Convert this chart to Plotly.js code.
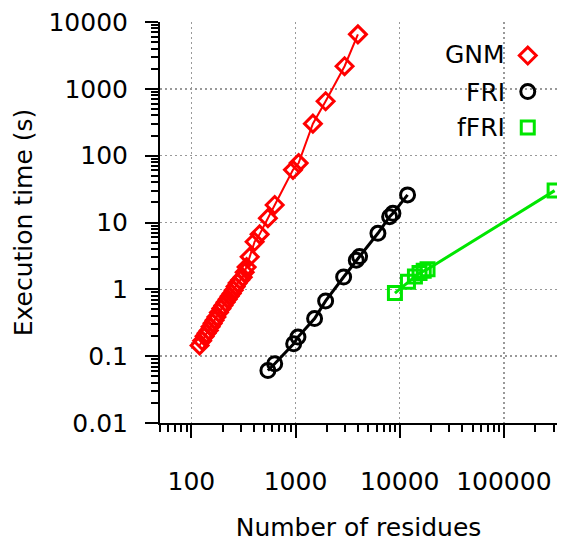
<!DOCTYPE html>
<html>
<head>
<meta charset="utf-8">
<script src="https://cdn.plot.ly/plotly-3.0.1.min.js"></script>
<style>html,body{margin:0;padding:0;background:#fff;}#chart{width:564px;height:542px;}</style>
</head>
<body>
<div id="chart"></div>
<script>
// Data
const seriesNames = ["GNM", "FRI", "fFRI"];

const gnmResidues = [120, 127, 134, 140, 147, 153, 160, 167, 174, 184, 194, 203, 213, 223, 233, 244, 255, 266, 278, 294, 311, 325, 339, 363, 405, 452, 543, 631, 945, 1071, 1468, 1945, 2957, 3970];
const gnmTime     = [0.145, 0.17, 0.198, 0.22, 0.243, 0.275, 0.31, 0.345, 0.385, 0.45, 0.515, 0.575, 0.64, 0.71, 0.79, 0.87, 0.97, 1.1, 1.24, 1.38, 1.52, 1.8, 2.15, 3.06, 5.15, 6.65, 11.6, 18.3, 61.4, 77.5, 301, 652, 2180, 6530];

const friResidues = [543, 631, 960, 1055, 1524, 1945, 2896, 3830, 4120, 6180, 8000, 8610, 11900];
const friTime     = [0.061, 0.077, 0.153, 0.193, 0.365, 0.67, 1.53, 2.73, 3.1, 6.9, 12.2, 13.7, 25.9];

const ffriResidues = [9000, 12000, 14000, 15500, 17000, 18500, 307000];
const ffriTime     = [0.88, 1.3, 1.55, 1.75, 1.9, 2.0, 30];

const xTickVals = [100, 1000, 10000, 100000];
const xTickText = ["100", "1000", "10000", "100000"];
const yTickVals = [0.01, 0.1, 1, 10, 100, 1000, 10000];
const yTickText = ["0.01", "0.1", "1", "10", "100", "1000", "10000"];

// minor (unlabelled) log tick positions: 2..9 within each decade
function minorTicks(lo, hi) {
  const out = [];
  for (let e = Math.floor(Math.log10(lo)); e <= Math.ceil(Math.log10(hi)); e++) {
    for (let m = 2; m <= 9; m++) {
      const v = m * Math.pow(10, e);
      if (v >= lo && v <= hi) out.push(v);
    }
  }
  return out;
}

const colors = ["#ff0000", "#000000", "#00e600"];
const symbols = ["diamond-open", "circle-open", "square-open"];
const msizes = [13, 14, 13];
const lwidths = [2, 3, 3];
const xs = [gnmResidues, friResidues, ffriResidues];
const ys = [gnmTime, friTime, ffriTime];

const traces = [];
for (let i = 0; i < 3; i++) {
  traces.push({
    x: xs[i], y: ys[i], mode: "lines", type: "scatter",
    line: {color: colors[i], width: lwidths[i]},
    showlegend: false, hoverinfo: "skip"
  });
}
for (let i = 0; i < 3; i++) {
  traces.push({
    x: xs[i], y: ys[i], mode: "markers", type: "scatter",
    name: seriesNames[i], legendgroup: "g" + i,
    marker: {symbol: symbols[i], size: msizes[i], color: colors[i], line: {color: colors[i], width: 3}},
    showlegend: true
  });
}

const FONT = "DejaVu Sans, Verdana, sans-serif";
const axisCommon = {
  type: "log",
  showline: true, linecolor: "#000", linewidth: 2,
  ticks: "outside", ticklen: 13, tickwidth: 2, tickcolor: "#000",
  showgrid: true, gridcolor: "#999", griddash: "2px,3px", gridwidth: 1.5,
  zeroline: false, tickangle: 0,
  tickfont: {family: FONT, size: 25, color: "#000"}
};

const xRange = [Math.log10(50), 5.51];
const yRange = [-2, 4];

const layout = {
  width: 564, height: 542,
  margin: {l: 160, r: 7, t: 22, b: 119, autoexpand: false},
  paper_bgcolor: "#fff", plot_bgcolor: "#fff",
  font: {family: FONT, color: "#000"},
  xaxis: Object.assign({}, axisCommon, {
    range: xRange,
    tickmode: "array", tickvals: xTickVals, ticktext: xTickText,
    ticklabelstandoff: 22,
    minor: {tickmode: "array", tickvals: minorTicks(50, 330000), ticks: "outside", ticklen: 7, tickwidth: 2, tickcolor: "#000", showgrid: false},
    title: {text: "Number of residues", font: {family: FONT, size: 25, color: "#000"}, standoff: 24}
  }),
  yaxis: Object.assign({}, axisCommon, {
    range: yRange,
    tickmode: "array", tickvals: yTickVals, ticktext: yTickText,
    ticklabelstandoff: 12,
    minor: {tickmode: "array", tickvals: minorTicks(0.01, 10000), ticks: "outside", ticklen: 7, tickwidth: 2, tickcolor: "#000", showgrid: false},
    title: {text: "Execution time (s)", font: {family: FONT, size: 25, color: "#000"}, standoff: 9}
  }),
  showlegend: true,
  legend: {
    x: 0.876, y: 0.9525, xanchor: "left", yanchor: "top",
    bgcolor: "rgba(0,0,0,0)", borderwidth: 0,
    traceorder: "grouped", tracegroupgap: 17,
    font: {family: FONT, size: 1, color: "rgba(0,0,0,0)"}
  },
  annotations: seriesNames.map((n, i) => ({
    xref: "paper", yref: "paper", x: 0.874, y: [0.920, 0.824, 0.736][i],
    xanchor: "right", yanchor: "middle", showarrow: false,
    text: n, font: {family: FONT, size: 25, color: "#000"}
  }))
};

Plotly.newPlot("chart", traces, layout, {staticPlot: true, displayModeBar: false});
</script>
</body>
</html>
